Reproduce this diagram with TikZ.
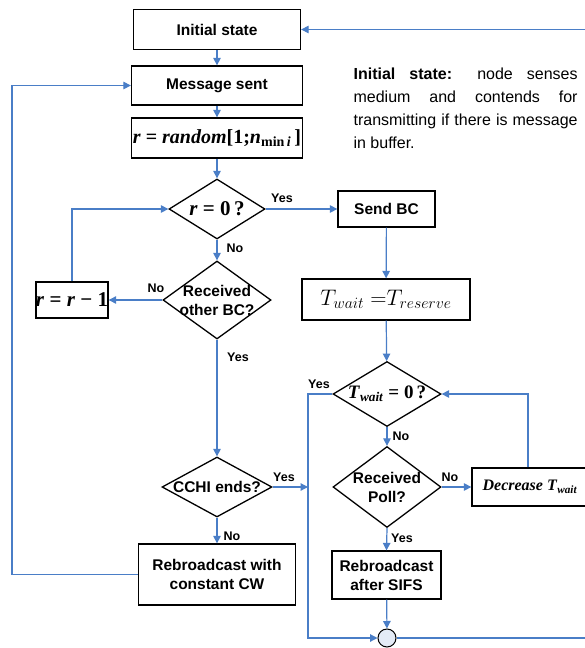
\documentclass[tikz,border=0pt]{standalone}
\usepackage{fix-cm}
\usepackage{fontspec}
\setmainfont{Liberation Sans}
\newfontfamily\tnr{Liberation Serif}
\usetikzlibrary{arrows.meta,shapes.geometric}
\definecolor{flowblue}{RGB}{74,126,199}
\definecolor{joinfill}{RGB}{228,235,246}
\tikzset{every picture/.style={line width=1.2pt}}
\tikzset{
  box/.style={draw=black, line width=1.3pt, inner sep=0pt, align=center,
                font=\fontsize{15.5}{19}\selectfont\bfseries},
  mbox/.style={draw=black, line width=1.3pt, inner sep=0pt,
                font=\fontsize{#1}{#1}\selectfont\tnr\bfseries},
  mbox/.default={21},
  dia/.style={diamond, draw=black, line width=1.3pt, inner sep=0pt},
  dlab/.style={align=center, font=\fontsize{15.5}{19}\selectfont\bfseries},
  mlab/.style={font=\fontsize{#1}{#1}\selectfont\tnr\bfseries},
  mlab/.default={21},
  yn/.style={font=\fontsize{12.5}{14}\selectfont\bfseries, inner sep=0pt},
  flow/.style={draw=flowblue, -{Triangle[length=7.5pt,width=7.5pt]}},
}
\def\lc{217} % left column
\def\rc{387} % right column

\begin{document}
\begin{tikzpicture}[x=1pt,y=-1pt]
  \useasboundingbox (0,0) rectangle (584,648);
  % left column
  \node[box, minimum width=167pt, minimum height=40pt] (init) at (\lc,29.5) {Initial state};
  \node[box, minimum width=171pt, minimum height=39pt] (msg) at (\lc,85.5) {Message sent};
  \node[mbox=20, minimum width=171pt, minimum height=40pt] (rnd) at (\lc,138)
    {\textit{r} = \textit{random}[1;\textit{n}\textsubscript{min\,\textit{i}}\,]};
  \node[dia, minimum width=96pt, minimum height=60pt,
        label={[mlab]center:\textit{r} = 0\,?}] (rzero) at (\lc,209) {};
  \node[dia, minimum width=108pt, minimum height=78pt,
        label={[dlab]center:Received\\other BC?}] (recv) at (\lc,300) {};
  \node[mbox=21, minimum width=72pt, minimum height=36pt] (dec) at (72,300)
    {\textit{r} = \textit{r} \char"2212\ 1};
  \node[dia, minimum width=110pt, minimum height=60pt,
        label={[dlab]center:CCHI ends?}] (cchi) at (\lc,487) {};
  \node[box, minimum width=157pt, minimum height=61pt] (rebc) at (\lc,574.5)
    {Rebroadcast with\\constant CW};
  % right column
  \node[box, minimum width=97pt, minimum height=36pt] (sendbc) at (386.5,209) {Send BC};
  \node[draw=black, line width=1.3pt, inner sep=0pt, minimum width=168pt, minimum height=41pt,
        font=\fontsize{22.5}{22.5}\selectfont] (twait) at (386,299.5) {$T_{wait}\;{=}T_{reserve}$};
  \node[dia, minimum width=108pt, minimum height=65pt,
        label={[mlab=19]center:\textit{T}\textsubscript{\textit{wait}} = 0\,?}] (tzero) at (\rc,394) {};
  \node[dia, minimum width=108pt, minimum height=81pt,
        label={[dlab]center:Received\\Poll?}] (poll) at (\rc,487) {};
  \node[mbox=16, minimum width=116pt, minimum height=38pt] (decT) at (530,487)
    {\textit{Decrease T}\textsubscript{\textit{wait}}};
  \node[box, minimum width=109pt, minimum height=48pt] (sifs) at (386.5,575)
    {Rebroadcast\\after SIFS};
  \node[circle, draw=black, line width=1pt, fill=joinfill, minimum size=18pt, inner sep=0pt] (join) at (\rc,638) {};
  % note
  \node[anchor=north west, inner sep=0pt, text width=224pt, align=justify,
        font=\fontsize{16}{23}\selectfont] (note) at (353,67)
    {\textbf{Initial state:} node senses medium and contends for \mbox{transmitting} if there is message in buffer.};
  % corner points
  \coordinate (ledge) at (12,574.5);
  \coordinate (redge) at (587,638);
  \coordinate (vtop) at (308,394);
  \coordinate (cchiend) at (308,487);
  % connectors
  \draw[flow] (init) -- (msg);
  \draw[flow] (msg) -- (rnd);
  \draw[flow] (rnd) -- (rzero);
  \draw[flow] (rzero.east) -- (sendbc.west);
  \draw[flow] (rzero.south) -- (recv.north);
  \draw[flow] (recv.west) -- (dec.east);
  \draw[flow] (dec.north) |- (rzero.west);
  \draw[flow] (recv.south) -- (cchi.north);
  \draw[flow] (cchi.east) -- (cchiend);
  \draw[flow] (cchi.south) -- (rebc.north);
  \draw[flow] (rebc.west) -- (ledge) |- (msg.west);
  \draw[flow] (sendbc) -- (twait);
  \draw[flow] (twait) -- (tzero);
  \draw[flow] (tzero.west) -- (vtop) |- (join.west);
  \draw[flow] (tzero.south) -- (poll.north);
  \draw[flow] (poll.east) -- (decT.west);
  \draw[flow] ([xshift=-2pt]decT.north) |- (tzero.east);
  \draw[flow] (poll.south) -- (sifs.north);
  \draw[flow] (sifs) -- (join);
  \draw[flow] (join.east) -- (redge) |- (init.east);
  % yes / no
  \node[yn] (y1) at (282,198) {Yes};
  \node[yn] (n1) at (235,248) {No};
  \node[yn] (n2) at (156,288) {No};
  \node[yn] (y2) at (238,357) {Yes};
  \node[yn] (y3) at (319,384) {Yes};
  \node[yn] (n3) at (401,436) {No};
  \node[yn] (y4) at (284,477) {Yes};
  \node[yn] (n4) at (450,477) {No};
  \node[yn] (n5) at (232,536) {No};
  \node[yn] (y5) at (402,538) {Yes};
\end{tikzpicture}
\end{document}
